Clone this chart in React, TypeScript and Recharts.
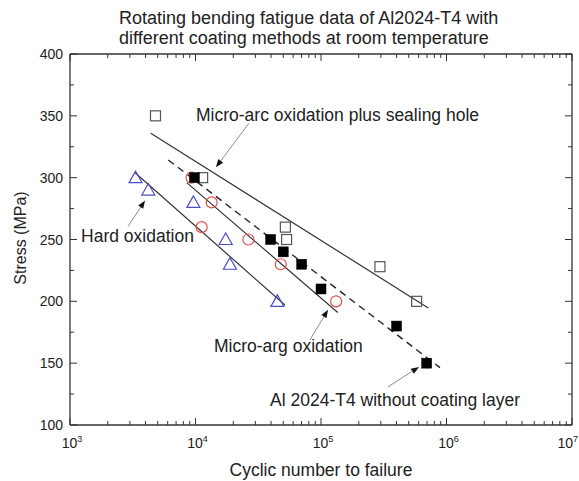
import React from 'react';
import { ScatterChart, Scatter, XAxis, YAxis, ReferenceLine } from 'recharts';

const FONT = '"Liberation Sans", Arial, Helvetica, sans-serif';

// ---- measured data (cycles to failure, stress MPa) ----
const sealingCycles = [4800, 11400, 52000, 53200, 295000, 578000];
const sealingStress = [350, 300, 260, 250, 228, 200];
const bareCycles = [9800, 39700, 50000, 70100, 100000, 400000, 695000];
const bareStress = [300, 250, 240, 230, 210, 180, 150];
const microArcCycles = [9300, 13450, 11200, 26400, 47800, 132000];
const microArcStress = [300, 280, 260, 250, 230, 200];
const hardCycles = [3330, 4210, 9620, 17400, 18800, 44900];
const hardStress = [300, 290, 280, 250, 230, 200];

// ---- fitted lines (end points) ----
const sealingFitCycles = [4400, 716000];
const sealingFitStress = [336, 194.6];
const bareFitCycles = [6070, 887000];
const bareFitStress = [314.3, 146.4];
const microArcFitCycles = [8510, 136000];
const microArcFitStress = [296, 191];
const hardFitCycles = [3300, 51600];
const hardFitStress = [304, 197];

// ---- annotations ----
const annotationTexts = [
  'Micro-arc oxidation plus sealing hole',
  'Hard oxidation',
  'Micro-arg oxidation',
  'Al 2024-T4 without coating layer',
];
const annotationCycles = [10090, 1224, 14030, 39270];
const annotationStress = [345.7, 247.6, 159.2, 115.4];

const arrowTailCycles = [26700, 2897, 81660, 341700];
const arrowTailStress = [344.1, 260.5, 168.9, 130.8];
const arrowTipCycles = [14550, 3963, 113800, 604000];
const arrowTipStress = [308.4, 281.6, 193.2, 147.0];

// ---- ticks ----
const xDecades = [1e3, 1e4, 1e5, 1e6];
const xMultipliers = [1, 2, 3, 4, 5, 6, 7, 8, 9];
const xTicks = [...xDecades.flatMap((d) => xMultipliers.map((m) => m * d)), 1e7];
const yTicks = [100, 125, 150, 175, 200, 225, 250, 275, 300, 325, 350, 375, 400];

const titleLines = [
  'Rotating bending fatigue data of Al2024-T4 with',
  'different coating methods at room temperature',
];
const xLabel = 'Cyclic number to failure';
const yLabel = 'Stress (MPa)';

const zip = (n: number[], s: number[]) => n.map((v, i) => ({ n: v, s: s[i] }));

const sealingData = zip(sealingCycles, sealingStress);
const bareData = zip(bareCycles, bareStress);
const microArcData = zip(microArcCycles, microArcStress);
const hardData = zip(hardCycles, hardStress);
const annotationData = annotationTexts.map((t, i) => ({
  n: annotationCycles[i],
  s: annotationStress[i],
  label: t,
}));

const AXIS = '#333';

const isMajorX = (v: number) => {
  const e = Math.round(Math.log10(v));
  return Math.abs(v - Math.pow(10, e)) < 1e-6 * v;
};

const XTickBottom = (props: any) => {
  const { x, y, payload } = props;
  const v = payload.value;
  const major = isMajorX(v);
  const exp = Math.round(Math.log10(v));
  const last = v >= 1e7;
  return (
    <g>
      <line x1={x} x2={x} y1={y} y2={y - (major ? 7 : 4)} stroke={AXIS} strokeWidth={1} />
      {major && (
        <text
          x={last ? x + 6 : x + 2}
          y={y + 23}
          textAnchor={last ? 'end' : 'middle'}
          fontSize={14}
          fill="#222"
          fontFamily={FONT}
        >
          <tspan>10</tspan>
          <tspan dy={-6} fontSize={9}>{exp}</tspan>
        </text>
      )}
    </g>
  );
};

const XTickTop = (props: any) => {
  const { x, y, payload } = props;
  const major = isMajorX(payload.value);
  return <line x1={x} x2={x} y1={y} y2={y + (major ? 7 : 4)} stroke={AXIS} strokeWidth={1} />;
};

const YTickLeft = (props: any) => {
  const { x, y, payload } = props;
  const major = payload.value % 50 === 0;
  return (
    <g>
      <line x1={x} x2={x + (major ? 7 : 4)} y1={y} y2={y} stroke={AXIS} strokeWidth={1} />
      {major && (
        <text x={x - 7} y={y + 5} textAnchor="end" fontSize={14} fill="#222" fontFamily={FONT}>
          {payload.value}
        </text>
      )}
    </g>
  );
};

const YTickRight = (props: any) => {
  const { x, y, payload } = props;
  const major = payload.value % 50 === 0;
  return <line x1={x} x2={x - (major ? 7 : 4)} y1={y} y2={y} stroke={AXIS} strokeWidth={1} />;
};

const OpenSquare = (p: any) => (
  <rect x={p.cx - 5} y={p.cy - 5} width={10} height={10} fill="none" stroke="#555" strokeWidth={1.2} />
);
const FilledSquare = (p: any) => (
  <rect x={p.cx - 5} y={p.cy - 5} width={10} height={10} fill="#000" stroke="#000" strokeWidth={0.5} />
);
const OpenCircle = (p: any) => (
  <circle cx={p.cx} cy={p.cy} r={5.5} fill="none" stroke="#e2504c" strokeWidth={1.2} />
);
const OpenTriangle = (p: any) => (
  <polygon
    points={`${p.cx},${p.cy - 6.5} ${p.cx - 6.5},${p.cy + 5} ${p.cx + 6.5},${p.cy + 5}`}
    fill="none"
    stroke="#4d4dc8"
    strokeWidth={1.2}
  />
);
const NoMarker = () => <g />;

const AnnotationText = (p: any) => (
  <text x={p.cx} y={p.cy} fontSize={17.5} fill="#222" fontFamily={FONT}>
    {p.payload.label}
  </text>
);

const ArrowShape = (p: any) => {
  const { x1, y1, x2, y2 } = p;
  if ([x1, y1, x2, y2].some((v) => typeof v !== 'number' || isNaN(v))) return <g />;
  const ang = Math.atan2(y2 - y1, x2 - x1);
  const L = 8;
  const W = 3;
  const bx = x2 - L * Math.cos(ang);
  const by = y2 - L * Math.sin(ang);
  const pts = `${x2},${y2} ${bx + W * Math.sin(ang)},${by - W * Math.cos(ang)} ${bx - W * Math.sin(ang)},${by + W * Math.cos(ang)}`;
  return (
    <g>
      <line x1={x1} y1={y1} x2={bx} y2={by} stroke="#8a8a8a" strokeWidth={1} />
      <polygon points={pts} fill="#111" />
    </g>
  );
};

const TitleLabel = () => (
  <g>
    {titleLines.map((t, i) => (
      <text key={i} x={119} y={24 + i * 20} fontSize={18} fill="#222" fontFamily={FONT}>
        {t}
      </text>
    ))}
  </g>
);

const XAxisLabel = () => (
  <text x={321} y={476} textAnchor="middle" fontSize={17.5} fill="#222" fontFamily={FONT}>
    {xLabel}
  </text>
);

const YAxisLabel = () => (
  <text
    x={20}
    y={238}
    transform="rotate(-90, 20, 238)"
    textAnchor="middle"
    dominantBaseline="central"
    fontSize={16}
    fill="#222"
    fontFamily={FONT}
  >
    {yLabel}
  </text>
);

export default function App() {
  return (
    <div style={{ position: 'absolute', left: 0, top: 0, width: 579, height: 481, background: '#fff' }}>
      <ScatterChart width={579} height={481} margin={{ top: 0, right: 0, bottom: 0, left: 0 }}>
        <XAxis
          type="number"
          dataKey="n"
          scale="log"
          domain={[1000, 1e7]}
          allowDataOverflow
          ticks={xTicks}
          interval={0}
          tick={XTickBottom}
          tickLine={false}
          tickSize={0}
          tickMargin={0}
          height={56}
          axisLine={{ stroke: AXIS, strokeWidth: 1.3 }}
          label={XAxisLabel}
        />
        <XAxis
          xAxisId="top"
          orientation="top"
          type="number"
          dataKey="n"
          scale="log"
          domain={[1000, 1e7]}
          allowDataOverflow
          ticks={xTicks}
          interval={0}
          tick={XTickTop}
          tickLine={false}
          tickSize={0}
          tickMargin={0}
          height={54}
          axisLine={{ stroke: AXIS, strokeWidth: 1.3 }}
          label={TitleLabel}
        />
        <YAxis
          type="number"
          dataKey="s"
          domain={[100, 400]}
          allowDataOverflow
          ticks={yTicks}
          interval={0}
          tick={YTickLeft}
          tickLine={false}
          tickSize={0}
          tickMargin={0}
          width={70}
          axisLine={{ stroke: AXIS, strokeWidth: 1.3 }}
          label={YAxisLabel}
        />
        <YAxis
          yAxisId="right"
          orientation="right"
          type="number"
          dataKey="s"
          domain={[100, 400]}
          allowDataOverflow
          ticks={yTicks}
          interval={0}
          tick={YTickRight}
          tickLine={false}
          tickSize={0}
          tickMargin={0}
          width={7}
          axisLine={{ stroke: AXIS, strokeWidth: 1.3 }}
        />

        <Scatter
          data={zip(sealingFitCycles, sealingFitStress)}
          line={{ stroke: '#333', strokeWidth: 1.2 }}
          shape={NoMarker}
          isAnimationActive={false}
        />
        <Scatter
          data={zip(bareFitCycles, bareFitStress)}
          line={{ stroke: '#222', strokeWidth: 1.4, strokeDasharray: '7 5' }}
          shape={NoMarker}
          isAnimationActive={false}
        />
        <Scatter
          data={zip(microArcFitCycles, microArcFitStress)}
          line={{ stroke: '#333', strokeWidth: 1.2 }}
          shape={NoMarker}
          isAnimationActive={false}
        />
        <Scatter
          data={zip(hardFitCycles, hardFitStress)}
          line={{ stroke: '#333', strokeWidth: 1.2 }}
          shape={NoMarker}
          isAnimationActive={false}
        />

        <Scatter data={microArcData} shape={OpenCircle} isAnimationActive={false} />
        <Scatter data={hardData} shape={OpenTriangle} isAnimationActive={false} />
        <Scatter data={sealingData} shape={OpenSquare} isAnimationActive={false} />
        <Scatter data={bareData} shape={FilledSquare} isAnimationActive={false} />

        <Scatter data={annotationData} shape={AnnotationText} isAnimationActive={false} />

        {annotationTexts.map((_, i) => (
          <ReferenceLine
            key={i}
            segment={[
              { x: arrowTailCycles[i], y: arrowTailStress[i] },
              { x: arrowTipCycles[i], y: arrowTipStress[i] },
            ]}
            shape={ArrowShape}
            ifOverflow="visible"
          />
        ))}
      </ScatterChart>
    </div>
  );
}
